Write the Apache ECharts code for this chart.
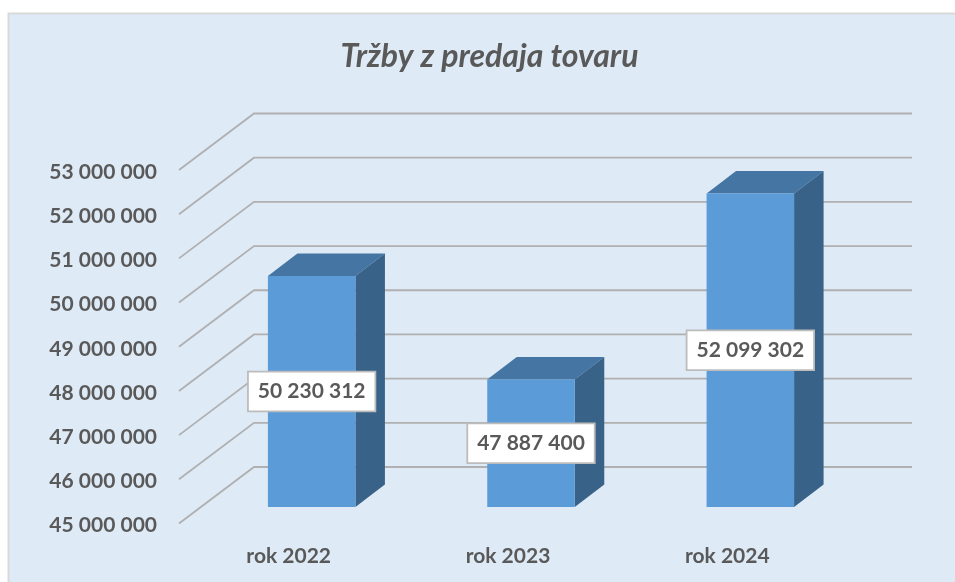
<!DOCTYPE html>
<html>
<head>
<meta charset="utf-8">
<style>html,body{margin:0;padding:0;background:#fff}#c{width:955px;height:582px}</style>
<script src="https://cdn.jsdelivr.net/npm/echarts@6/dist/echarts.min.js"></script>
</head>
<body>
<div id="c"></div>
<script>
var titleText = 'Tržby z predaja tovaru';
var categories = ['rok 2022', 'rok 2023', 'rok 2024'];
var sales = [50230312, 47887400, 52099302];
var gridTicks = [45000000, 46000000, 47000000, 48000000, 49000000, 50000000, 51000000, 52000000, 53000000];

var FONT = 'Lato, Carlito, "Open Sans", sans-serif';
var TEXT = '#595959';
var WALL_DX = 75, WALL_DY = -56.5;
var BAR_W = 87.5, BAR_DX = 29.5, BAR_DY = -22.5, BAR_OFF_X = 23, BAR_OFF_Y = -16.4;

function fmt(v) { return String(v).replace(/\B(?=(\d{3})+$)/g, ' '); }

function renderWall(params, api) {
  var cs = params.coordSys;
  var y = api.coord([0, api.value(0)])[1];
  var x0 = cs.x, x1 = cs.x + WALL_DX, x2 = cs.x + cs.width + WALL_DX, yb = y + WALL_DY;
  return {
    type: 'polyline',
    shape: { points: [[x0, y], [x1, yb], [x2, yb]] },
    style: { stroke: '#B0B0B0', lineWidth: 1.8, fill: null }
  };
}

function renderBar(params, api) {
  var idx = api.value(0), val = api.value(1);
  var top = api.coord([idx, val]);
  var base = api.coord([idx, gridTicks[0]]);
  var l = top[0] + BAR_OFF_X - BAR_W / 2, r = l + BAR_W;
  var t = top[1] + BAR_OFF_Y, b = base[1] + BAR_OFF_Y;
  return {
    type: 'group',
    children: [
      { type: 'polygon', shape: { points: [[l, t], [r, t], [r + BAR_DX, t + BAR_DY], [l + BAR_DX, t + BAR_DY]] },
        style: { fill: '#4475A3' } },
      { type: 'polygon', shape: { points: [[r, t], [r + BAR_DX, t + BAR_DY], [r + BAR_DX, b + BAR_DY], [r, b]] },
        style: { fill: '#386288' } },
      { type: 'rect', shape: { x: l, y: t, width: BAR_W, height: b - t },
        style: { fill: '#5B9BD7' } },
      { type: 'text', z2: 10,
        style: { x: (l + r) / 2, y: (t + b) / 2, text: fmt(val), align: 'center', verticalAlign: 'middle',
          fontFamily: FONT, fontWeight: 'bold', fontSize: 21, fill: TEXT,
          backgroundColor: '#fff', borderColor: '#BCBCBC', borderWidth: 1.8, padding: [9, 9, 8, 9] } }
    ]
  };
}

var chart = echarts.init(document.getElementById('c'), null, { renderer: 'canvas' });
chart.setOption({
  animation: false,
  backgroundColor: '#fff',
  graphic: [{
    type: 'rect', z: -10, silent: true,
    shape: { x: 8.5, y: 13.5, width: 960, height: 580 },
    style: { fill: '#DEEAF6', stroke: '#D9D9D9', lineWidth: 2 }
  }],
  title: {
    text: titleText, left: 484.5, top: 36, textAlign: 'center',
    textStyle: { fontFamily: FONT, fontStyle: 'italic', fontWeight: 'bold', fontSize: 32, color: TEXT }
  },
  grid: { left: 179, top: 170, width: 658, height: 353.5, containLabel: false },
  xAxis: {
    type: 'category', data: categories,
    axisLine: { show: false }, axisTick: { show: false },
    axisLabel: { margin: 22, fontFamily: FONT, fontWeight: 'bold', fontSize: 21, color: TEXT }
  },
  yAxis: {
    type: 'value', min: 45000000, max: 53000000, interval: 1000000,
    axisLine: { show: false }, axisTick: { show: false }, splitLine: { show: false },
    axisLabel: {
      margin: 22,
      formatter: function (v) { return '{a|' + fmt(v) + '}'; },
      rich: { a: { padding: [4, 0, 0, 0], fontFamily: FONT, fontWeight: 'bold', fontSize: 21, color: TEXT } }
    }
  },
  series: [
    { type: 'custom', name: 'grid', silent: true, renderItem: renderWall, z: 1,
      encode: { y: 0 }, clip: false, data: gridTicks.map(function (v) { return [v]; }) },
    { type: 'custom', name: 'Tržby', renderItem: renderBar, z: 2, clip: false,
      encode: { x: 0, y: 1 }, data: sales.map(function (v, i) { return [i, v]; }) }
  ]
});
</script>
</body>
</html>
